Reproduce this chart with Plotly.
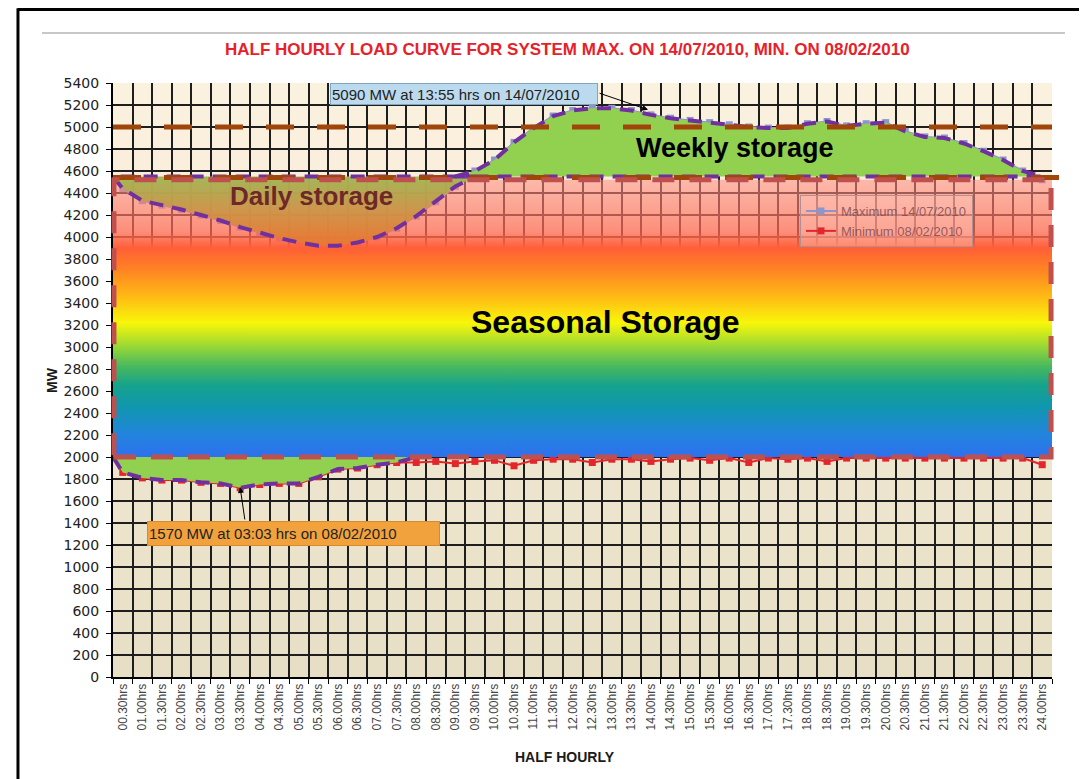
import numpy as np
import plotly.graph_objects as go

# ---------------- data ----------------
half_hours = [
    "00.30hrs", "01.00hrs", "01.30hrs", "02.00hrs", "02.30hrs", "03.00hrs",
    "03.30hrs", "04.00hrs", "04.30hrs", "05.00hrs", "05.30hrs", "06.00hrs",
    "06.30hrs", "07.00hrs", "07.30hrs", "08.00hrs", "08.30hrs", "09.00hrs",
    "09.30hrs", "10.00hrs", "10.30hrs", "11.00hrs", "11.30hrs", "12.00hrs",
    "12.30hrs", "13.00hrs", "13.30hrs", "14.00hrs", "14.30hrs", "15.00hrs",
    "15.30hrs", "16.00hrs", "16.30hrs", "17.00hrs", "17.30hrs", "18.00hrs",
    "18.30hrs", "19.00hrs", "19.30hrs", "20.00hrs", "20.30hrs", "21.00hrs",
    "21.30hrs", "22.00hrs", "22.30hrs", "23.00hrs", "23.30hrs", "24.00hrs",
]

max_load = [
    4440, 4330, 4290, 4250, 4200, 4150, 4090, 4040, 3990, 3950, 3920, 3920,
    3950, 4000, 4080, 4190, 4320, 4460, 4600, 4700, 4860, 4990, 5100, 5150,
    5170, 5170, 5150, 5110, 5080, 5060, 5040, 5020, 5000, 4990, 4990, 5030,
    5050, 5010, 5030, 5040, 4960, 4910, 4900, 4850, 4780, 4700, 4600, 4520,
]

min_load = [
    1860, 1810, 1790, 1790, 1770, 1760, 1720, 1750, 1760, 1760, 1820, 1890,
    1900, 1930, 1950, 1950, 1960, 1940, 1960, 1970, 1920, 1970, 1980, 1980,
    1950, 1980, 1980, 1960, 1980, 1990, 1970, 1990, 1950, 1990, 1980, 1990,
    1960, 1990, 1990, 1990, 1990, 1990, 1990, 1990, 1990, 1990, 1990, 1930,
]

y_ticks = list(range(0, 5401, 200))

seasonal_low = 2000      # bottom of seasonal storage band
seasonal_high = 4520     # top of seasonal storage band
storage_base = 4550      # base of daily / weekly storage
base_line = 4540         # lower brown reference line
cap_line = 5000          # upper brown reference line
valley_span = 15         # half hours in overnight minimum valley

# ---------------- geometry helpers ----------------
pos = np.arange(len(half_hours))
x_left, x_right = -0.5, len(half_hours) - 0.5
max_arr = np.array(max_load, dtype=float)
min_arr = np.array(min_load, dtype=float)

above = max_arr > storage_base
first_above = int(np.argmax(above))
last_above = int(len(above) - 1 - np.argmax(above[::-1]))

PURPLE = "#7030A0"
P_DASH = "14px,9px"

fig = go.Figure()

# background gradient bands (below grid)
top_c = np.array([252, 242, 224])
bot_c = np.array([231, 223, 197])
shapes = []
for k in range(len(y_ticks) - 1):
    t = (y_ticks[k] + y_ticks[k + 1]) / 2 / y_ticks[-1]
    c = bot_c + (top_c - bot_c) * t
    shapes.append(dict(type="rect", xref="x", yref="y", x0=x_left, x1=x_right,
                       y0=y_ticks[k], y1=y_ticks[k + 1], layer="below",
                       line=dict(width=0),
                       fillcolor="rgb(%d,%d,%d)" % tuple(c.astype(int))))

# series
fig.add_trace(go.Scatter(
    x=pos, y=max_load, mode="lines+markers", name="Maximum 14/07/2010",
    line=dict(color="#8C96CC", width=2),
    marker=dict(symbol="square", size=7, color="#8C96CC")))
fig.add_trace(go.Scatter(
    x=pos, y=min_load, mode="lines+markers", name="Minimum 08/02/2010",
    line=dict(color="#E3262A", width=2),
    marker=dict(symbol="square", size=7, color="#E3262A")))

# seasonal storage band
span = seasonal_high - seasonal_low
def f(v):
    return (v - seasonal_low) / span
seasonal_scale = [
    [0.0, "rgb(46,112,238)"],
    [f(2200), "rgb(35,132,222)"],
    [f(2450), "rgb(16,150,175)"],
    [f(2650), "rgb(22,162,140)"],
    [f(2820), "rgb(70,184,95)"],
    [f(3020), "rgb(160,218,50)"],
    [f(3220), "rgb(248,246,10)"],
    [f(3450), "rgb(255,188,20)"],
    [f(3700), "rgb(255,132,35)"],
    [f(3900), "rgb(255,95,55)"],
    [f(4050), "rgba(255,105,85,0.72)"],
    [1.0, "rgba(255,140,130,0.55)"],
]
fig.add_trace(go.Scatter(
    x=[x_left, x_right, x_right, x_left, x_left],
    y=[seasonal_low, seasonal_low, seasonal_high, seasonal_high, seasonal_low],
    mode="lines", fill="toself", line=dict(width=0),
    fillgradient=dict(type="vertical", colorscale=seasonal_scale,
                      start=seasonal_low, stop=seasonal_high),
    showlegend=False, hoverinfo="skip"))

# daily storage region
d_idx = pos[:first_above + 1]
dx = [x_left] + list(d_idx) + [x_left]
dy = [storage_base] + list(np.minimum(max_arr[:first_above + 1], storage_base)) + [storage_base]
fig.add_trace(go.Scatter(
    x=dx, y=dy, mode="lines", fill="toself", line=dict(width=0),
    fillgradient=dict(type="vertical",
                      colorscale=[[0, "rgba(235,118,48,0.96)"], [0.5, "rgba(205,148,72,0.95)"],
                                  [1, "rgba(160,182,84,0.96)"]],
                      start=float(max_arr.min()), stop=storage_base),
    showlegend=False, hoverinfo="skip"))

# weekly storage region
w_sl = slice(first_above - 1, last_above + 2)
wx = list(pos[w_sl]) + [pos[w_sl][-1], pos[w_sl][0]]
wy = list(np.maximum(max_arr[w_sl], storage_base)) + [storage_base, storage_base]
fig.add_trace(go.Scatter(
    x=wx, y=wy, mode="lines", fill="toself", fillcolor="#92D050",
    line=dict(width=0), showlegend=False, hoverinfo="skip"))

# overnight minimum valley region
vx = [x_left] + list(pos[:valley_span]) + [pos[valley_span]]
vy = [seasonal_low] + list(min_arr[:valley_span]) + [seasonal_low]
fig.add_trace(go.Scatter(
    x=vx + [x_left], y=vy + [seasonal_low], mode="lines", fill="toself",
    fillcolor="#92D050", line=dict(width=0), showlegend=False, hoverinfo="skip"))

# purple dashed outlines
for ox, oy in [(dx, dy), (wx + [wx[0]], wy + [wy[0]]), (vx, vy)]:
    fig.add_trace(go.Scatter(
        x=ox, y=oy, mode="lines", line=dict(color=PURPLE, width=4, dash=P_DASH),
        showlegend=False, hoverinfo="skip"))

# brown & red dashed reference lines (above traces)
shapes += [
    dict(type="line", xref="paper", yref="y", x0=0, x1=1.0, y0=cap_line, y1=cap_line,
         line=dict(color="#A0460A", width=5, dash="28px,23px")),
    dict(type="line", xref="paper", yref="y", x0=0, x1=1.014, y0=base_line, y1=base_line,
         line=dict(color="#A0460A", width=5, dash="28px,23px")),
    dict(type="rect", xref="paper", yref="y", x0=0.001, x1=0.999,
         y0=seasonal_low, y1=seasonal_high,
         line=dict(color="#C0504D", width=5, dash="22px,15px")),
    # slide frame
    dict(type="line", xref="paper", yref="paper", x0=-0.1012, x1=1.05, y0=1.1237, y1=1.1237,
         line=dict(color="black", width=3)),
    dict(type="line", xref="paper", yref="paper", x0=-0.1012, x1=-0.1012, y0=1.126, y1=-0.2,
         line=dict(color="black", width=3)),
    dict(type="line", xref="paper", yref="paper", x0=-0.0756, x1=1.0138, y0=1.0842, y1=1.0842,
         line=dict(color="#B4B4B4", width=1.5)),
]

C = dict(xanchor="center", yanchor="middle", showarrow=False, xref="paper", yref="paper")
annotations = [
    dict(text="<b>HALF HOURLY LOAD CURVE FOR SYSTEM MAX. ON 14/07/2010, MIN. ON 08/02/2010</b>",
         x=0.4835, y=1.0556,
         font=dict(family="Liberation Sans Narrow, Liberation Sans, Arial", size=17, color="#E8202A"), **C),
    dict(text="<b>HALF HOURLY</b>", x=0.481, y=-0.1347,
         font=dict(family="Liberation Sans, Arial", size=14, color="#1a1a1a"), **C),
    dict(text="<b>MW</b>", x=-0.065, y=0.5, textangle=-90,
         font=dict(family="Liberation Sans, Arial", size=14, color="#1a1a1a"), **C),
    dict(text="<b>Daily storage</b>", x=0.2119, y=0.8098,
         font=dict(family="Liberation Sans, Arial", size=26, color="#6E2828"), **C),
    dict(text="<b>Weekly storage</b>", x=0.6624, y=0.8906,
         font=dict(family="Liberation Sans, Arial", size=27, color="black"), **C),
    dict(text="<b>Seasonal Storage</b>", x=0.524, y=0.5976,
         font=dict(family="Liberation Sans, Arial", size=32, color="black"), **C),
    # callout boxes
    dict(text="5090 MW at 13:55 hrs on 14/07/2010",
         x=0.3738, y=0.9823, width=264, height=18, align="left",
         bgcolor="#BCDAEE", bordercolor="#7FA6BE", borderwidth=1, borderpad=1,
         font=dict(family="Liberation Sans Narrow, Liberation Sans, Arial", size=15, color="#222"), **C),
    dict(text="1570 MW at 03:03 hrs on 08/02/2010",
         x=0.1922, y=0.2416, width=289, height=21, align="left",
         bgcolor="#F2A23C", bordercolor="#D98A2C", borderwidth=1, borderpad=1,
         font=dict(family="Liberation Sans, Arial", size=15, color="#222"), **C),
    # arrows
    dict(text="", xref="paper", yref="paper", x=0.5698, y=0.955, ax=-50, ay=-17,
         showarrow=True, arrowhead=2, arrowsize=1.2, arrowwidth=1, arrowcolor="black"),
    dict(text="", xref="paper", yref="paper", x=0.1353, y=0.3199, ax=5, ay=34,
         showarrow=True, arrowhead=2, arrowsize=1.2, arrowwidth=1, arrowcolor="black"),
]

boundaries = list(np.arange(len(half_hours) + 1) - 0.5)

fig.update_layout(
    width=1079, height=771,
    margin=dict(l=105, r=35, t=75, b=102),
    paper_bgcolor="white", plot_bgcolor="#F4EAD4",
    shapes=shapes, annotations=annotations,
    showlegend=True,
    legend=dict(x=0.7316, y=0.8114, xanchor="left", yanchor="top",
                bgcolor="rgba(255,205,195,0.35)", bordercolor="#B09090", borderwidth=1,
                font=dict(family="Liberation Sans, Arial", size=13, color="rgba(120,70,80,0.8)"),
                tracegroupgap=2),
    xaxis=dict(range=[x_left, x_right], tickmode="array", tickvals=list(pos),
               ticktext=half_hours, tickangle=-90, showgrid=False, ticks="",
               tickfont=dict(family="Liberation Sans, Arial", size=12, color="#444"),
               showline=True, linecolor="black", linewidth=2, zeroline=False,
               minor=dict(tickmode="array", tickvals=boundaries, ticks="outside", ticklen=5,
                          tickcolor="black", showgrid=True, gridcolor="#1e1e1e", gridwidth=1.5)),
    yaxis=dict(range=[0, y_ticks[-1]], tickmode="array", tickvals=y_ticks,
               showgrid=True, gridcolor="#1e1e1e", gridwidth=1.5, zeroline=False,
               ticks="outside", ticklen=5, tickcolor="black", ticklabelstandoff=4,
               showline=True, linecolor="black", linewidth=2,
               tickfont=dict(family="DejaVu Sans", size=14, color="#222")),
)

fig.write_html("out.html")
